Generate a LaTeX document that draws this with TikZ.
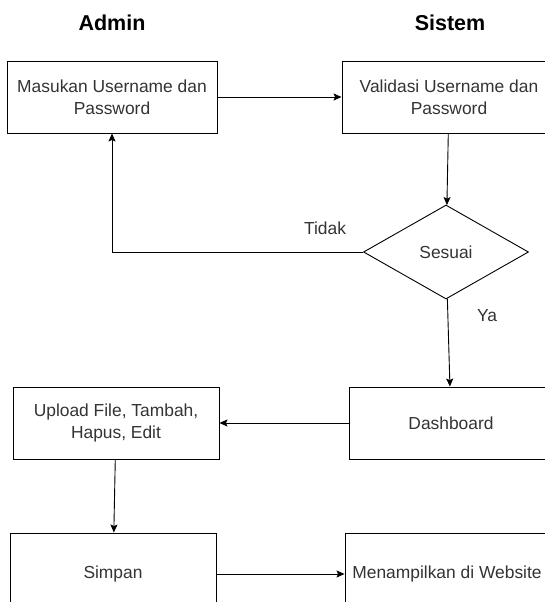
\documentclass[tikz,border=0pt]{standalone}
\usepackage{xcolor}
\usepackage{fontspec}
\setmainfont{Liberation Sans}
\usepackage{tikz}
\usetikzlibrary{arrows.meta, positioning, shapes.geometric}

\begin{document}
\begin{tikzpicture}[x=1pt, y=-1pt,
				>={Stealth[length=8pt, width=7pt, inset=1.5pt]},
				line width=0.9pt,
				font=\fontsize{17.4}{22}\selectfont,
				box/.style={draw, rectangle, inner sep=0pt, align=center, text=black!80},
				decision/.style={draw, diamond, inner sep=0pt, minimum width=165pt, minimum height=94pt, text=black!80},
				title/.style={font=\fontsize{21.5}{24}\selectfont\bfseries}]
				\useasboundingbox (0,0) rectangle (545,602);
				\clip (0,0) rectangle (545,602);
				% lajur
				\node at (112,23) (admin) [title] {Admin};
				\node at (450,23) (sistem) [title] {Sistem};
				% langkah
				\node at (112,97) (masuk) [box, minimum width=210pt, minimum height=72pt] {Masukan Username dan\\Password};
				\node at (449,97) (validasi) [box, minimum width=214pt, minimum height=72pt] {Validasi Username dan\\Password};
				\node at (446,252) (sesuai) [decision] {Sesuai};
				\node at (451,423) (dash) [box, minimum width=204pt, minimum height=72pt] {Dashboard};
				\node at (116,423) (upload) [box, minimum width=206pt, minimum height=72pt] {Upload File, Tambah,\\Hapus, Edit};
				\node at (113,574) (simpan) [box, minimum width=206pt, minimum height=82pt] {Simpan};
				\node at (447,574) (tampil) [box, minimum width=204pt, minimum height=82pt] {Menampilkan di Website};
				% label
				\node at (325,228) (tidak) [text=black!80] {Tidak};
				\node at (487,316) (ya) [text=black!80] {Ya};
				% alur
				\draw[->] (masuk) -- (validasi);
				\draw[->] (validasi) -- (sesuai);
				\draw[->] (sesuai.west) -| (masuk);
				\draw[->] (sesuai) -- (dash);
				\draw[->] (dash) -- (upload);
				\draw[->] (upload) -- (simpan);
				\draw[->] (simpan) -- (tampil);
\end{tikzpicture}
\end{document}
